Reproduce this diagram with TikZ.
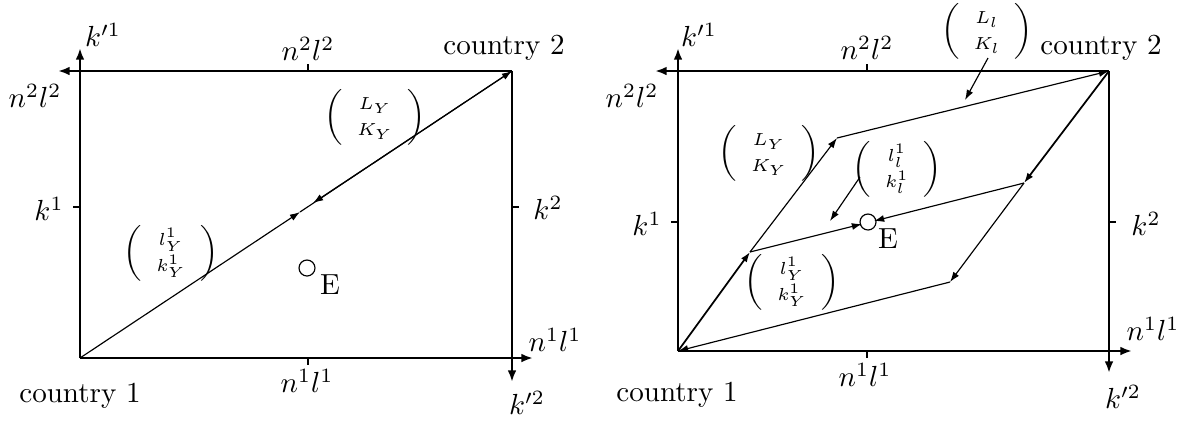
\documentclass[tikz,border=0pt]{standalone}
\usepackage{amsmath}
\usetikzlibrary{arrows.meta, positioning}
\tikzset{
  axis/.style={thick, -{Latex[length=4pt,width=3pt]}},
  flow/.style={thin, -{Latex[length=3.5pt,width=2.4pt]}},
  bflow/.style={semithick, -{Latex[length=3.5pt,width=2.4pt]}},
  tick/.style={thin},
  lbl/.style={inner sep=1pt},
  vec/.style={font=\footnotesize, inner sep=0pt},
  eqpt/.style={circle, draw, thin, minimum size=5.5pt, inner sep=0pt},
}
\newcommand{\colvec}[2]{\renewcommand{\arraystretch}{0.95}$\left(\begin{array}{c}\scriptstyle #1\\ \scriptstyle #2\end{array}\right)$}

\begin{document}
\begin{tikzpicture}[x=0.344pt, y=-0.344pt]
  \useasboundingbox (0,0) rectangle (1197,423);

  % ---- left panel ----
  \coordinate (o1) at (80,358);
  \coordinate (c1) at (512,71);
  \coordinate (kup1) at (80,48);
  \coordinate (nleft1) at (58,71);
  \coordinate (nright1) at (533,358);
  \coordinate (kdn1) at (512,382);
  \draw[axis] (o1) -- (kup1);
  \draw[axis] (o1) -- (nright1);
  \draw[axis] (c1) -- (nleft1);
  \draw[axis] (c1) -- (kdn1);
  \draw[tick] (308,71) -- (308,64);
  \draw[tick] (308,358) -- (308,365);
  \draw[tick] (73,207) -- (80,207);
  \draw[tick] (512,207) -- (519,207);

  \node[lbl] (kpa) at (103,35) {$k'^1$};
  \node[lbl] (nla) at (35,96) {$n^2l^2$};
  \node[lbl] (ka) at (49,209) {$k^1$};
  \node[lbl] (ntopa) at (308,49) {$n^2l^2$};
  \node[lbl] (cta) at (504,48) {country 2};
  \node[lbl] (kb) at (548,208) {$k^2$};
  \node[lbl] (nra) at (555,340) {$n^1l^1$};
  \node[lbl] (kpb) at (527,403) {$k'^2$};
  \node[lbl] (nbota) at (307,381) {$n^1l^1$};
  \node[lbl] (coa) at (80,396) {country 1};

  \coordinate (m1a) at (300,212);
  \coordinate (m1b) at (313,203);
  \draw[flow] (o1) -- (m1a);
  \draw[flow] (m1a) -- (c1);
  \draw[flow] (c1) -- (m1b);
  \node[vec] (vLY1) at (375,117) {\colvec{L_Y}{K_Y}};
  \node[vec] (vlY1) at (171,253) {\colvec{l^1_Y}{k^1_Y}};
  \node[eqpt] (e1) at (307,268) {};
  \node[lbl] (elbl1) at (330,285) {E};

  % ---- right panel ----
  \coordinate (o2) at (678,351);
  \coordinate (c2) at (1109,71);
  \coordinate (kup2) at (678,48);
  \coordinate (nleft2) at (655,71);
  \coordinate (nright2) at (1132,351);
  \coordinate (kdn2) at (1109,373);
  \draw[axis] (o2) -- (kup2);
  \draw[axis] (o2) -- (nright2);
  \draw[axis] (c2) -- (nleft2);
  \draw[axis] (c2) -- (kdn2);
  \draw[tick] (867,71) -- (867,64);
  \draw[tick] (867,351) -- (867,358);
  \draw[tick] (671,222) -- (678,222);
  \draw[tick] (1109,222) -- (1116,222);

  \node[lbl] (kpc) at (699,35) {$k'^1$};
  \node[lbl] (nlc) at (632,96) {$n^2l^2$};
  \node[lbl] (kc) at (647,224) {$k^1$};
  \node[lbl] (ntopc) at (867,48) {$n^2l^2$};
  \node[lbl] (ctc) at (1101,48) {country 2};
  \node[lbl] (kd) at (1146,224) {$k^2$};
  \node[lbl] (nrc) at (1153,329) {$n^1l^1$};
  \node[lbl] (kpd) at (1123,397) {$k'^2$};
  \node[lbl] (nbotc) at (865,375) {$n^1l^1$};
  \node[lbl] (coc) at (677,395) {country 1};

  \coordinate (pa) at (750,252);
  \coordinate (pb) at (837,138);
  \coordinate (pd) at (1024,183);
  \coordinate (pf) at (950,282);
  \draw[bflow] (o2) -- (pa);
  \draw[flow] (pa) -- (pb);
  \draw[flow] (pb) -- (c2);
  \draw[bflow] (c2) -- (pd);
  \draw[flow] (pd) -- (pf);
  \draw[flow] (pf) -- (o2);

  \node[eqpt] (e2) at (868,222) {};
  \node[lbl] (elbl2) at (888,239) {E};
  \coordinate (ea) at (862,224);
  \coordinate (eb) at (874,221);
  \draw[flow] (pa) -- (ea);
  \draw[flow] (pd) -- (eb);

  \node[vec] (vLl) at (987,31) {\colvec{L_l}{K_l}};
  \node[vec] (vLY2) at (769,153) {\colvec{L_Y}{K_Y}};
  \node[vec] (vll) at (897,169) {\colvec{l^1_l}{k^1_l}};
  \node[vec] (vlY2) at (792,282) {\colvec{l^1_Y}{k^1_Y}};
  \coordinate (tLl) at (965,100);
  \coordinate (tll) at (830,221);
  \draw[flow] (988,58) -- (tLl);
  \draw[flow] (860,177) -- (tll);
\end{tikzpicture}
\end{document}
